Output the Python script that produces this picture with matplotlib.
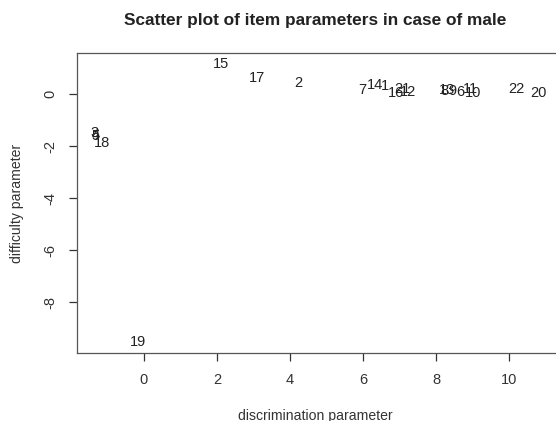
import matplotlib
matplotlib.use("Agg")
import matplotlib.pyplot as plt

# item labels and their parameters (discrimination, difficulty)
items = ["1", "2", "3", "4", "5", "6", "7", "8", "9", "10", "11",
         "12", "13", "14", "15", "16", "17", "18", "19", "20", "21", "22"]
discrimination = [6.60, 4.24, -1.35, -1.33, -1.32, 8.67, 5.97, 8.22, 8.46, 9.00, 8.93,
                  7.24, 8.31, 6.33, 2.10, 6.90, 3.10, -1.14, -0.16, 10.79, 7.09, 10.20]
difficulty = [0.32, 0.45, -1.50, -1.55, -1.60, 0.10, 0.17, 0.12, 0.12, 0.05, 0.22,
              0.08, 0.15, 0.36, 1.15, 0.06, 0.62, -1.88, -9.53, 0.06, 0.20, 0.19]
x_ticks = [0, 2, 4, 6, 8, 10]
y_ticks = [0, -2, -4, -6, -8]

plt.rcParams['font.family'] = ['Liberation Sans', 'DejaVu Sans']
W, H = 556, 421
fig = plt.figure(figsize=(W / 100, H / 100), dpi=100)
left, right, top, bottom = 76.7, 557.0, 53.3, 353.3
ax = fig.add_axes([left / W, 1 - bottom / H, (right - left) / W, (bottom - top) / H])

txtc = '#222222'
for lab, xv, yv in zip(items, discrimination, difficulty):
    ax.text(xv, yv, lab, ha='center', va='center', fontsize=10.5, color=txtc)

ax.set_xlim(-1.84, 11.31)
ax.set_ylim(-9.96, 1.58)
ax.set_xticks(x_ticks)
ax.set_yticks(y_ticks)
ax.set_xticklabels([str(v) for v in x_ticks])
ax.set_yticklabels([str(v) for v in y_ticks], rotation=90, va='center')
for s in ax.spines.values():
    s.set_color('#555555')
    s.set_linewidth(0.9)
ax.tick_params(length=5.5, width=0.9, color='#333333', labelsize=10.5,
               labelcolor='#333333', pad=8.5)

fig.text(315 / W, 1 - 20 / H, "Scatter plot of item parameters in case of male",
         ha='center', va='center', fontsize=12.4, fontweight='bold', color=txtc)
fig.text(315.5 / W, 1 - 416 / H, "discrimination parameter", ha='center', va='center',
         fontsize=10.1, color='#333333')
fig.text(17 / W, 1 - 203 / H, "difficulty parameter", ha='center', va='center',
         rotation=90, fontsize=10.1, color='#333333')

fig.savefig("out.png", dpi=100)
